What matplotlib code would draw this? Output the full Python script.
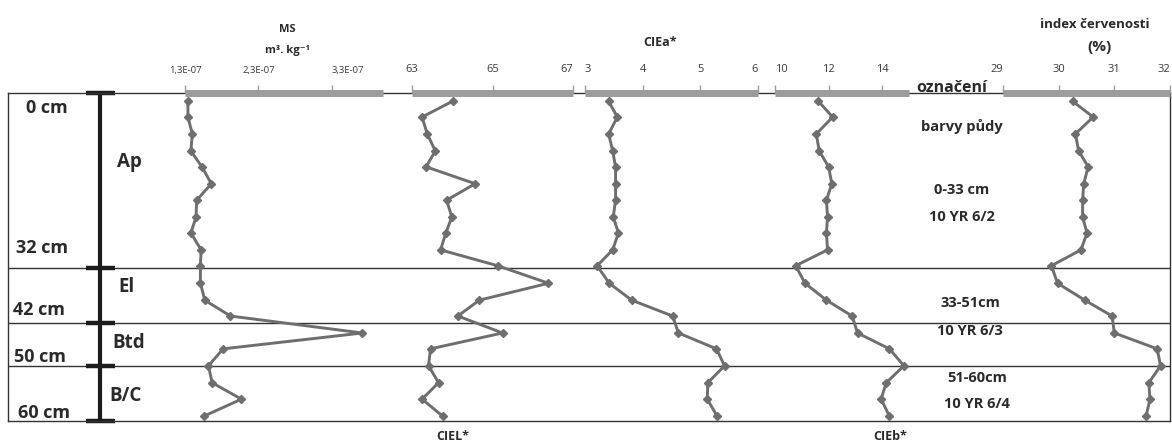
import matplotlib.pyplot as plt

plt.rcParams['font.family'] = ['Open Sans', 'DejaVu Sans']

W, H = 1172, 445
TOP, BOT = 93, 421

# hloubka odběru vzorků (cm)
depth = [1.5, 4.4, 7.5, 10.6, 13.5, 16.6, 19.6, 22.7, 25.6, 28.7,
         31.6, 34.8, 37.9, 40.8, 43.9, 46.8, 49.9, 53.0, 56.0, 59.1]

# magnetická susceptibilita
ms = [1.34e-7, 1.34e-7, 1.40e-7, 1.38e-7, 1.53e-7, 1.66e-7, 1.46e-7, 1.45e-7, 1.38e-7, 1.52e-7,
      1.51e-7, 1.51e-7, 1.57e-7, 1.92e-7, 3.72e-7, 1.82e-7, 1.62e-7, 1.67e-7, 2.07e-7, 1.56e-7]
ciel = [64.01, 63.25, 63.38, 63.58, 63.35, 64.57, 63.86, 63.99, 63.84, 63.71,
        65.13, 66.39, 64.67, 64.14, 65.25, 63.46, 63.41, 63.66, 63.25, 63.76]
ciea = [3.41, 3.56, 3.41, 3.48, 3.53, 3.53, 3.53, 3.49, 3.58, 3.48,
        3.21, 3.42, 3.81, 4.52, 4.62, 5.28, 5.42, 5.13, 5.12, 5.29]
cieb = [11.62, 12.15, 11.54, 11.65, 12.00, 12.12, 11.92, 11.96, 11.92, 11.96,
        10.77, 11.12, 11.92, 12.88, 13.08, 14.27, 14.81, 14.15, 13.96, 14.27]
cervenost = [30.25, 30.62, 30.30, 30.36, 30.53, 30.45, 30.43, 30.43, 30.51, 30.40,
             29.87, 29.98, 30.47, 30.96, 31.00, 31.77, 31.83, 31.62, 31.64, 31.57]

hranice = [0, 32, 42, 50, 60]
hranice_popis = ['0 cm', '32 cm', '42 cm', '50 cm', '60 cm']
horizonty = ['Ap', 'El', 'Btd', 'B/C']
barvy = ['0-33 cm', '10 YR 6/2', '33-51cm', '10 YR 6/3', '51-60cm', '10 YR 6/4']

ms_ticks = [1.3e-7, 2.3e-7, 3.3e-7]
ms_labels = ['1,3E-07', '2,3E-07', '3,3E-07']
ciel_ticks = [63, 65, 67]
ciea_ticks = [3, 4, 5, 6]
cieb_ticks = [10, 12, 14]
cerv_ticks = [29, 30, 31, 32]

TXT = '#2a2a2a'
BAR = '#9c9c9c'
LINE = '#6e6e6e'

fig = plt.figure(figsize=(W / 100, H / 100), dpi=100)


def rect(x0, x1, y0=TOP, y1=BOT):
    return [x0 / W, 1 - y1 / H, (x1 - x0) / W, (y1 - y0) / H]


def ftext(x, y, s, **kw):
    kw.setdefault('color', TXT)
    kw.setdefault('ha', 'center')
    kw.setdefault('va', 'center')
    fig.text(x / W, 1 - y / H, s, **kw)


# rámeček profilu s hranicemi horizontů
frame = fig.add_axes(rect(8, 1170))
frame.set_xlim(8, 1170)
frame.set_ylim(60, 0)
frame.set_xticks([])
frame.set_yticks([])
for sp in frame.spines.values():
    sp.set_linewidth(1)
    sp.set_color('#333333')
for b in hranice[1:-1]:
    frame.axhline(b, color='#333333', lw=1)

# svislá hloubková stupnice
frame.plot([100, 100], [0, 60], color='#1c1c1c', lw=3, solid_capstyle='butt', clip_on=False)
frame.hlines(hranice, 86, 115, color='#1c1c1c', lw=3.2, clip_on=False)

for s, (x, y) in zip(hranice_popis, [(47, 108), (42, 248), (39, 310), (40, 357), (44, 413)]):
    ftext(x, y, s, fontsize=13, fontweight='bold')
for s, (x, y) in zip(horizonty, [(129, 162), (127, 287), (129, 343), (126, 396)]):
    ftext(x, y, s, fontsize=13.5, fontweight='bold')

# popis barvy půdy
ftext(952, 88, 'označení', fontsize=11.5, fontweight='bold')
ftext(962, 127, 'barvy půdy', fontsize=10.5, fontweight='bold')
for s, (x, y) in zip(barvy, [(962, 190), (962, 217), (970, 303), (970, 331), (977, 378), (977, 404)]):
    ftext(x, y, s, fontsize=10.5, fontweight='bold')

# názvy veličin
ftext(287, 30, 'MS', fontsize=8, fontweight='bold')
ftext(287, 50, 'm³. kg⁻¹', fontsize=8, fontweight='bold')
ftext(660, 43, 'CIEa*', fontsize=9, fontweight='bold')
ftext(1095, 25, 'index červenosti', fontsize=9.5, fontweight='bold')
ftext(1100, 47, '(%)', fontsize=11, fontweight='bold')
ftext(453, 437, 'CIEL*', fontsize=9, fontweight='bold')
ftext(890, 437, 'CIEb*', fontsize=9, fontweight='bold')

# (hodnoty, levý a pravý okraj osy v px, rozsah, značky, popisky, velikost, zarovnání popisků)
panels = [
    (ms, 185, 383, (1.3e-7, 4.0e-7), ms_ticks, ms_labels, 6.8, 'ccl'),
    (ciel, 412, 573, (63, 67), ciel_ticks, [str(t) for t in ciel_ticks], 8, 'ccr'),
    (ciea, 585, 758, (3, 6), ciea_ticks, [str(t) for t in ciea_ticks], 8, 'lccr'),
    (cieb, 775, 909, (10, 15), cieb_ticks, [str(t) for t in cieb_ticks], 8, 'lcc'),
    (cervenost, 1003, 1170, (29, 32), cerv_ticks, [str(t) for t in cerv_ticks], 8, 'rccr'),
]
align = {'l': 'left', 'c': 'center', 'r': 'right'}

for vals, x0, x1, lim, ticks, labels, fs, ha in panels:
    ax = fig.add_axes(rect(x0, x1))
    ax.patch.set_visible(False)
    ax.set_xlim(lim)
    ax.set_ylim(60, 0)
    for s in ['left', 'right', 'bottom']:
        ax.spines[s].set_visible(False)
    ax.spines['top'].set_color(BAR)
    ax.spines['top'].set_linewidth(5)
    ax.spines['top'].set_capstyle('butt')
    ax.xaxis.tick_top()
    ax.set_xticks(ticks, labels)
    ax.tick_params(axis='x', direction='out', length=6, width=1, color=BAR,
                   labelsize=fs, labelcolor='#3a3a3a', pad=7)
    for lab, a in zip(ax.get_xticklabels(), ha):
        lab.set_horizontalalignment(align[a])
    ax.set_yticks([])
    ax.plot(vals, depth, color=LINE, lw=2.1, marker='D', markersize=3.6,
            markerfacecolor=LINE, markeredgecolor=LINE, clip_on=False)

fig.savefig('out.png', dpi=100)
